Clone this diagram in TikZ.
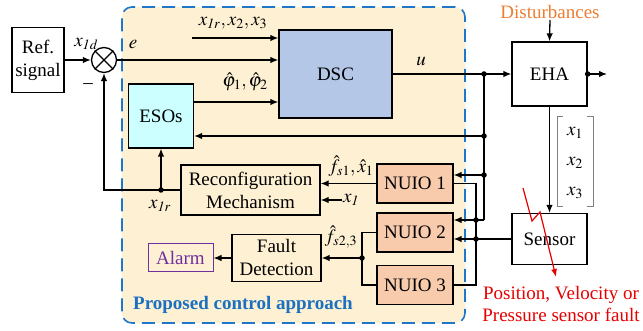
\documentclass[tikz,border=0pt]{standalone}
\usepackage{mathptmx}
\usepackage{fontspec}
\setmainfont{Liberation Serif}
\usetikzlibrary{arrows.meta,calc}
\definecolor{bgc}{HTML}{FDF0D3}
\definecolor{dashb}{HTML}{1F77C9}
\definecolor{dscc}{HTML}{B4C7E7}
\definecolor{esoc}{HTML}{CCFFFF}
\definecolor{nuioc}{HTML}{F8CBAD}
\definecolor{alarmc}{HTML}{7030A0}
\definecolor{distc}{HTML}{ED7D31}
\definecolor{faultc}{HTML}{E60000}
\definecolor{textb}{HTML}{1C70C0}
\definecolor{brk}{HTML}{808080}
\begin{document}
\begin{tikzpicture}[x=1pt,y=-1pt,
  font=\fontsize{19}{23}\selectfont,
  blk/.style={draw, line width=1.3pt, align=center, inner sep=1pt},
  arr/.style={line width=1.3pt, -{Latex[length=8pt,width=6.5pt]}},
  ln/.style={line width=1.3pt},
  dot/.style={circle, fill, inner sep=0pt, minimum size=5.5pt},
  lab/.style={inner sep=1pt}]
\useasboundingbox (0,0) rectangle (643,331);
% region
\node[draw=dashb, fill=bgc, line width=1.6pt, dash pattern=on 13pt off 7pt, rounded corners=10pt,
  minimum width=343pt, minimum height=316pt, inner sep=0pt] (region) at (293.5,165) {};
% blocks
\node[blk, minimum width=52pt, minimum height=65pt] (ref) at (38,60) {Ref.\\signal};
\node[draw, circle, line width=1.3pt, minimum size=25pt, inner sep=0pt] (sum) at (104,60) {};
\draw[ln] (sum.north west) -- (sum.south east) (sum.north east) -- (sum.south west);
\node[blk, fill=dscc, minimum width=113pt, minimum height=88pt] (dsc) at (335.5,74) {DSC};
\node[blk, fill=esoc, minimum width=65pt, minimum height=64pt] (eso) at (161,116) {ESOs};
\node[blk, minimum width=75pt, minimum height=64pt] (eha) at (549.5,74) {EHA};
\node[blk, minimum width=75pt, minimum height=51pt] (sensor) at (549.5,239) {Sensor};
\node[blk, fill=nuioc, minimum width=76pt, minimum height=39pt] (n1) at (415,183.5) {NUIO 1};
\node[blk, fill=nuioc, minimum width=76pt, minimum height=39pt] (n2) at (415,232.5) {NUIO 2};
\node[blk, fill=nuioc, minimum width=76pt, minimum height=39pt] (n3) at (415,285) {NUIO 3};
\node[blk, minimum width=139pt, minimum height=50pt] (rec) at (250.5,190) {Reconfiguration\\Mechanism};
\node[blk, minimum width=89pt, minimum height=47pt] (fd) at (276.5,258) {Fault\\Detection};
\node[blk, draw=alarmc, text=alarmc, line width=1pt, minimum width=65pt, minimum height=28pt] (alarm) at (180.5,258) {Alarm};
% texts
\node[lab] (lx1d) at (86,44) {$x_{\mathit{1d}}$};
\node[lab] (le) at (133,44) {$e$};
\node[lab] (lminus) at (88,86) {--};
\node[lab] (lxin) at (233,23) {$x_{\mathit{1r}}, x_2, x_3$};
\node[lab] (lphi) at (245,82) {$\hat{\varphi}_1,\hat{\varphi}_2$};
\node[lab] (lu) at (421,61) {$u$};
\node[lab] (lfs1) at (351,166) {$\hat{f}_{s1},\hat{x}_1$};
\node[lab] (lx1) at (351,200) {$x_{\mathit{1}}$};
\node[lab] (lx1r) at (160,206) {$x_{\mathit{1r}}$};
\node[lab] (lfs23) at (341,237) {$\hat{f}_{s2,3}$};
\node[lab, text=distc] (dist) at (550,12) {Disturbances};
\node[lab, text=textb, font=\fontsize{19}{23}\selectfont\bfseries, anchor=west] (title) at (132,305) {Proposed control approach};
\node[lab, text=faultc, align=center, font=\fontsize{19}{22}\selectfont] (fault) at (561,304) {Position, Velocity or\\Pressure sensor fault};
% state vector
\node[lab] (sx1) at (575,133) {$x_1$};
\node[lab] (sx2) at (575,163) {$x_2$};
\node[lab] (sx3) at (575,193) {$x_3$};
\draw[brk, line width=1pt] (563,117) -- (557,117) -- (557,207) -- (563,207);
\draw[brk, line width=1pt] (587,117) -- (593,117) -- (593,207) -- (587,207);
% coordinates
\coordinate (xin) at (192,38);
\coordinate (uj) at (484,74);
\coordinate (ej) at (484,136);
\coordinate (n1j) at (484,175);
\coordinate (n2a) at (484,220);
\coordinate (cx) at (476,220);
\coordinate (sj) at (476,239);
\coordinate (out) at (607,74);
\coordinate (x1rj) at (161,190);
\coordinate (fj) at (362,258);
% connectors
\draw[arr] (ref.east) -- (sum.west);
\draw[arr] (sum.east) -- (dsc.west |- sum.east);
\draw[arr] (xin) -- (dsc.west |- xin);
\draw[arr] (eso.east |- 0,102) -- (dsc.west |- 0,102);
\draw[ln] (dsc.east |- uj) -- (uj);
\draw[arr] (uj) -- (eha.west |- uj);
\draw[arr] (eha.east) -- (out);
\node[dot] at (eha.east) {};
\draw[arr] (dist.south) -- (eha.north);
\draw[arr] (eha.south) -- (sensor.north);
\draw[ln] (uj) -- (n2a);
\draw[arr] (n2a) -- (n2.east |- n2a);
\draw[arr] (ej) -- (eso.east |- ej);
\draw[arr] (n1j) -- (n1.east |- n1j);
\draw[arr] (sensor.west) -- (n2.east |- sensor.west);
\draw[ln] (n1.east) -| (sj) |- (n3.east);
\draw[ln] (sj) -- (476,285);
\node[dot] at (uj) {};
\node[dot] at (ej) {};
\node[dot] at (n1j) {};
\node[dot] at (cx) {};
\node[dot] at (sj) {};
\draw[arr] (n1.west) -- (rec.east |- n1.west);
\draw[arr] (lx1.west) -- (rec.east |- lx1.west);
\draw[arr] (rec.west) -| (sum.south);
\draw[arr] (x1rj) -- (eso.south);
\node[dot] at (x1rj) {};
\draw[ln] (n2.west) -| (fj) |- (n3.west);
\draw[arr] (fj) -- (fd.east |- fj);
\node[dot] at (fj) {};
\draw[arr] (fd.west) -- (alarm.east);
% fault lightning
\draw[faultc, line width=1.2pt, -{Latex[length=8pt,width=6pt]}] (523,188) -- (532,221) -- (540,212) -- (556,277);
\end{tikzpicture}
\end{document}
